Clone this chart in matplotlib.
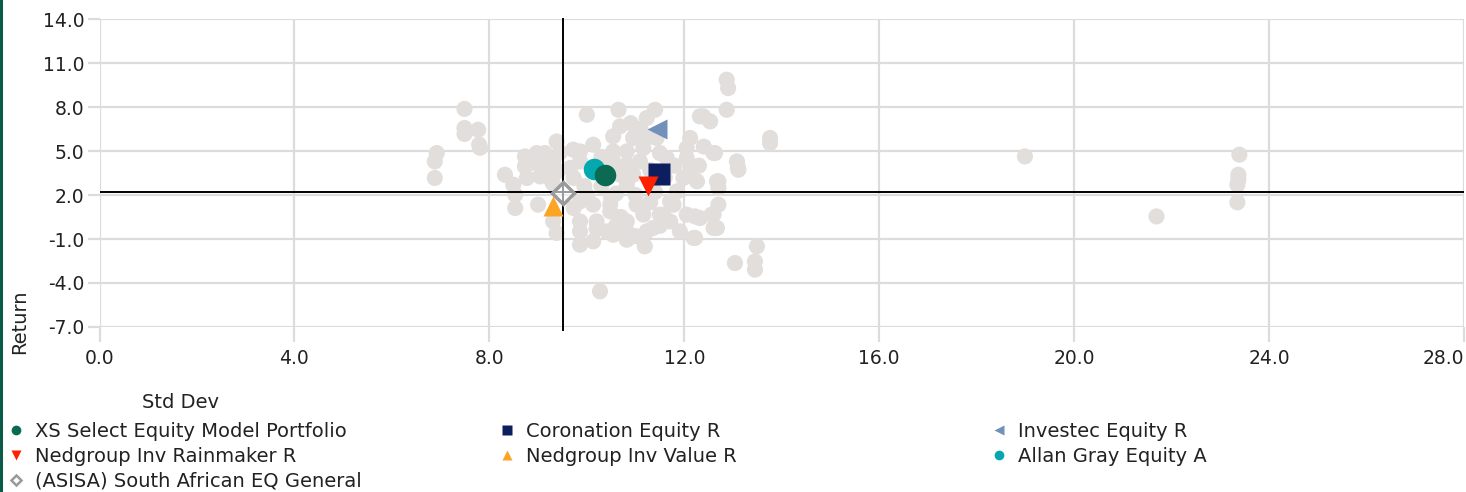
import matplotlib
matplotlib.use('Agg')
import matplotlib.pyplot as plt
from matplotlib.lines import Line2D

# Peer group (grey cloud): std dev and return
peer_std = [6.92, 6.88, 6.88, 7.49, 7.49, 7.49, 7.77, 7.79, 7.81,
            8.32, 8.49, 8.53, 8.53, 9.00, 8.73, 8.73, 8.97, 9.14, 9.38, 9.31,
            9.11, 9.04, 8.77, 9.24, 9.41, 9.31, 9.38, 8.90, 9.20, 9.45, 9.30,
            10.00, 10.65, 11.40, 11.23, 10.68, 10.54, 10.95, 11.23, 11.43, 10.13,
            9.86, 9.72, 10.54, 10.82, 11.16, 11.50, 11.64, 10.54, 10.82, 11.09,
            9.86, 9.66, 9.73, 10.68, 10.95, 10.82, 12.12, 12.05, 12.05, 12.32,
            12.53, 12.60, 12.12, 12.26, 12.67, 11.98, 11.85, 11.71, 11.02, 10.48,
            10.13, 9.86, 11.57, 12.05, 12.32, 12.60,
            10.30, 10.00, 10.60, 11.00, 11.40, 10.30, 11.30, 11.60, 11.10, 10.90,
            9.95, 10.50, 11.30, 11.80, 12.40, 12.30,
            9.86, 10.13, 10.54, 10.82, 11.19, 11.23, 10.27, 11.71, 11.91, 12.19,
            12.60, 9.86, 10.20, 10.82, 11.16, 11.50, 9.73, 10.48, 9.86, 10.41,
            10.82, 11.36, 11.78, 10.60, 11.00, 10.20, 11.50, 10.70,
            12.87, 12.90, 12.87, 12.39, 13.76, 13.76, 12.63, 13.08, 13.11, 12.70,
            12.70, 12.70, 12.56, 12.22, 12.67, 12.22, 13.49, 13.45, 13.45, 13.04,
            13.10,
            18.99, 21.69, 23.39, 23.37, 23.37, 23.35, 23.35]
peer_ret = [4.86, 4.29, 3.16, 7.87, 6.57, 6.16, 6.45, 5.43, 5.22,
            3.38, 2.70, 2.02, 1.11, 1.34, 4.63, 3.95, 4.86, 4.86, 5.65, 4.29,
            4.07, 3.27, 3.16, 3.16, 3.61, 0.20, -0.59, 4.20, 4.50, 4.90, 2.80,
            7.47, 7.81, 7.81, 7.25, 6.68, 6.00, 5.89, 5.89, 5.89, 5.43,
            4.97, 5.09, 4.97, 4.97, 5.20, 4.86, 4.52, 4.29, 4.07, 4.29,
            4.29, 3.84, 3.16, 3.38, 3.38, 2.70, 5.89, 5.20, 4.52, 7.36,
            7.02, 4.86, 3.61, 2.93, 2.93, 3.16, 2.25, 1.56, 1.34, 1.34,
            1.34, 1.56, 0.66, 0.66, 0.43, 0.66,
            2.60, 2.00, 2.10, 2.00, 2.20, 4.60, 3.70, 3.20, 6.50, 6.90,
            2.60, 1.80, 1.50, 4.00, 5.30, 4.00,
            -1.39, -1.16, -0.71, -1.05, -1.50, -0.48, -4.57, 0.20, -0.48, -0.93,
            -0.25, 0.20, 0.20, 0.20, 0.66, 0.66, 1.11, 0.88, -0.48, -0.48,
            -0.48, -0.25, 1.34, -0.10, -0.80, -0.30, -0.10, 0.50,
            9.86, 9.29, 7.81, 7.36, 5.89, 5.54, 4.86, 4.29, 3.72, 2.93,
            2.48, 1.34, 0.66, 0.54, -0.25, -0.93, -1.50, -2.53, -3.09, -2.64,
            3.90,
            4.63, 0.54, 4.75, 3.38, 3.04, 2.70, 1.50]

# Highlighted funds
fund_names = ['XS Select Equity Model Portfolio', 'Coronation Equity R', 'Investec Equity R',
              'Nedgroup Inv Rainmaker R', 'Nedgroup Inv Value R', 'Allan Gray Equity A',
              '(ASISA) South African EQ General']
fund_std = [10.37, 11.48, 11.43, 11.26, 9.30, 10.15, 9.51]
fund_ret = [3.38, 3.40, 6.50, 2.59, 1.27, 3.79, 2.16]
fund_markers = ['o', 's', '<', 'v', '^', 'o', 'D']
fund_colors = ['#0a6b52', '#0c1e5e', '#7190ba', '#ff2000', '#fca524', '#05a8ae', '#9a9a9a']
fund_sizes = [15.5, 15.5, 15, 14, 15, 15.5, 11]

# crosshair at the category average
avg_std = 9.51
avg_ret = 2.18

x_ticks = [0, 4, 8, 12, 16, 20, 24, 28]
y_ticks = [14, 11, 8, 5, 2, -1, -4, -7]

plt.rcParams['font.family'] = 'DejaVu Sans'

fig = plt.figure(figsize=(14.66, 4.92), dpi=100)
ax = fig.add_axes([99.5 / 1466, 1 - 327 / 492, (1464 - 99.5) / 1466, (327 - 19) / 492])

ax.scatter(peer_std, peer_ret, s=135, c='#e2dedc', edgecolors='none', zorder=2)

ax.axhline(avg_ret, color='black', lw=1.4, zorder=3)
ax.axvline(avg_std, color='black', lw=1.4, ymin=-0.01, clip_on=False, zorder=3)

handles = []
z_order = [6, 5, 5, 5, 5, 4, 5]
for i, name in enumerate(fund_names):
    if fund_markers[i] == 'D':
        ax.plot(fund_std[i], fund_ret[i], marker='D', ms=fund_sizes[i], mfc=(1, 1, 1, 0.6),
                mec=fund_colors[i], mew=2.5, ls='none', zorder=z_order[i])
        h = Line2D([], [], marker='D', ms=5, mfc='white', mec=fund_colors[i], mew=1.8, ls='none')
    else:
        ax.plot(fund_std[i], fund_ret[i], marker=fund_markers[i], ms=fund_sizes[i],
                color=fund_colors[i], mec='none', ls='none', zorder=z_order[i])
        h = Line2D([], [], marker=fund_markers[i], ms=7, color=fund_colors[i], mec='none', ls='none')
    handles.append(h)

ax.set_xlim(0, 28)
ax.set_ylim(-7, 14)
ax.set_xticks(x_ticks)
ax.set_xticklabels(['%.1f' % t for t in x_ticks])
ax.set_yticks(y_ticks)
ax.set_yticklabels(['%.1f' % t for t in y_ticks])
# last x label sits inside the figure edge
ax.get_xticklabels()[-1].set_horizontalalignment('right')
ax.grid(True, color='#dcdcdc', lw=1.6, zorder=0)
ax.set_axisbelow(True)
for s in ax.spines.values():
    s.set_visible(False)
ax.tick_params(axis='x', length=11, width=1.6, color='#dcdcdc', pad=5, labelsize=13.5, labelcolor='#222222')
ax.tick_params(axis='y', length=9, width=1.6, color='#dcdcdc', pad=2, labelsize=13.5, labelcolor='#222222')

fig.text(180 / 1466, 1 - 402 / 492, 'Std Dev', ha='center', va='center', fontsize=14, color='#222222')
fig.text(20 / 1466, 1 - 322 / 492, 'Return', ha='center', va='center', rotation=90,
         fontsize=14, color='#222222')

# legend laid out row by row in three columns
col_x = [6 / 1466, 497 / 1466, 989 / 1466]
for c in range(3):
    idx = list(range(c, len(fund_names), 3))
    fig.legend([handles[i] for i in idx], [fund_names[i] for i in idx],
               loc='upper left', bbox_to_anchor=(col_x[c], 1 - 422 / 492),
               frameon=False, fontsize=14, handlelength=1.0, handletextpad=0.5,
               labelspacing=0.3, borderaxespad=0, borderpad=0, labelcolor='#222222')

fig.add_artist(Line2D([0.0008, 0.0008], [0, 1], color='#0b5a48', lw=2.2))

fig.savefig('out.png', dpi=100)
